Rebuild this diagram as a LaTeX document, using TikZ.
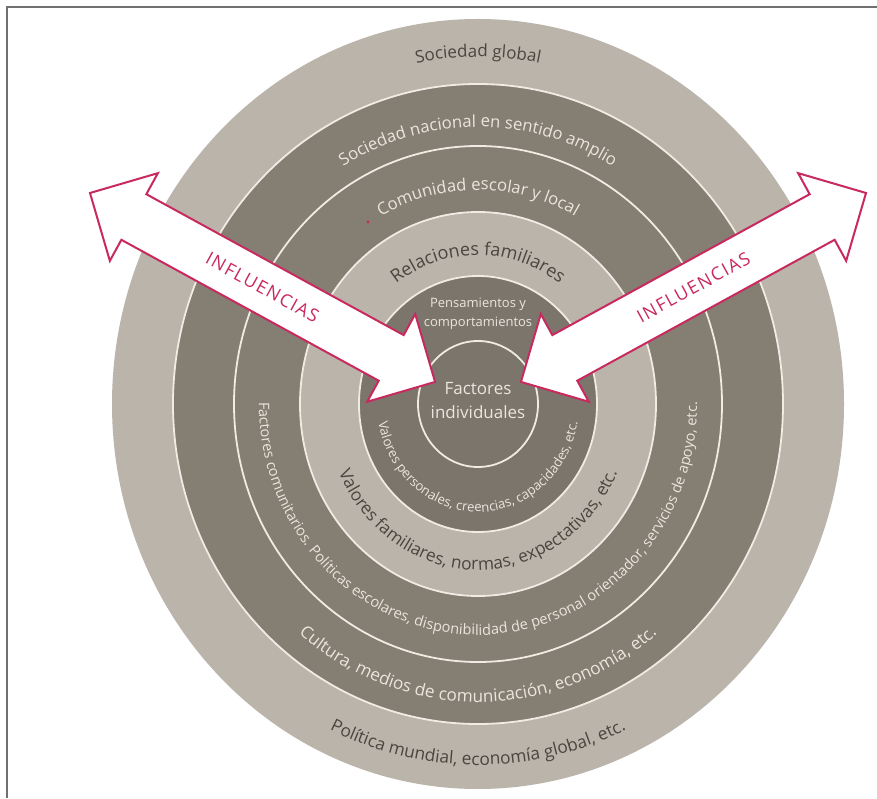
\documentclass[tikz,border=0pt]{standalone}
\usepackage{fontspec}
\setmainfont{Open Sans}
\usetikzlibrary{decorations.text}
\definecolor{lightband}{HTML}{BAB4AA}
\definecolor{darkband}{HTML}{847E73}
\definecolor{darkinner}{HTML}{7B756B}
\definecolor{ringwhite}{HTML}{F0ECE4}
\definecolor{txtdark}{HTML}{4B4540}
\definecolor{txtlight}{HTML}{EAE6DE}
\definecolor{crimson}{HTML}{C92A5E}
\definecolor{framegray}{HTML}{707070}
\tikzset{
  ringline/.style={draw=ringwhite, line width=1.8pt},
  arrowshape/.style={draw=crimson, fill=white, line width=2pt, line join=miter},
  influ/.style={text=crimson, font=\fontsize{18}{18}\selectfont\addfontfeatures{LetterSpace=8}, inner sep=0pt},
}
\begin{document}
\begin{tikzpicture}[x=1pt,y=1pt]
\useasboundingbox (0,0) rectangle (877,798);
\fill[white] (0,0) rectangle (877,798);
% frame
\draw[framegray, line width=2pt] (877,791) -- (7,791) -- (7,0);
\coordinate (C) at (478,394);
% rings
\fill[lightband] (C) ellipse[x radius=366, y radius=385];
\fill[darkband] (C) ellipse[x radius=305, y radius=320];
\draw[ringline] (C) ellipse[x radius=305, y radius=320];
\draw[ringline] (C) ellipse[x radius=244, y radius=258];
\fill[lightband] (C) ellipse[x radius=178, y radius=192];
\draw[ringline] (C) ellipse[x radius=178, y radius=192];
\fill[darkinner] (C) ellipse[x radius=119, y radius=128];
\draw[ringline] (C) ellipse[x radius=119, y radius=128];
\draw[ringline] (C) ellipse[x radius=60, y radius=63];
% red dot
\fill[crimson] (368,576) circle[radius=1.6];
% curved texts
\begin{scope}[shift={(C)}]
\path[decorate, decoration={text along path, text align=center,
  text={|\fontsize{17}{17}\selectfont\color{txtdark}|Sociedad global}}]
  (120:330 and 347) arc[start angle=120, end angle=60, x radius=330, y radius=347];
\path[decorate, decoration={text along path, text align=center,
  text={|\fontsize{16.7}{17}\selectfont\color{txtlight}|Sociedad nacional en sentido amplio}}]
  (140:262 and 277) arc[start angle=140, end angle=40, x radius=262, y radius=277];
\path[decorate, decoration={text along path, text align=center,
  text={|\fontsize{16.7}{17}\selectfont\color{txtlight}|Comunidad escolar y local}}]
  (150:203 and 214) arc[start angle=150, end angle=30, x radius=203, y radius=214];
\path[decorate, decoration={text along path, text align=center,
  text={|\fontsize{18}{18}\selectfont\color{txtdark}|Relaciones familiares}}]
  (160:138 and 149) arc[start angle=160, end angle=20, x radius=138, y radius=149];
\path[decorate, decoration={text along path, text align=center,
  text={|\fontsize{17.3}{17}\selectfont\color{txtdark}|Política mundial, economía global, etc.}}]
  (210:343 and 361) arc[start angle=210, end angle=330, x radius=343, y radius=361];
\path[decorate, decoration={text along path, text align=center,
  text={|\fontsize{17.2}{17}\selectfont\color{txtlight}|Cultura, medios de comunicación, economía, etc.}}]
  (195:282 and 298) arc[start angle=195, end angle=345, x radius=282, y radius=298];
\path[decorate, decoration={text along path, text align=center,
  text={|\fontsize{14.6}{15}\selectfont\color{txtlight}|Factores comunitarios. Políticas escolares, disponibilidad de personal orientador, servicios de apoyo, etc.}}]
  (155:219 and 231) arc[start angle=155, end angle=385, x radius=219, y radius=231];
\path[decorate, decoration={text along path, text align=center,
  text={|\fontsize{17.3}{17}\selectfont\color{txtdark}|Valores familiares, normas, expectativas, etc.}}]
  (185:153 and 166) arc[start angle=185, end angle=355, x radius=153, y radius=166];
\path[decorate, decoration={text along path, text align=center,
  text={|\fontsize{13.2}{13}\selectfont\color{txtlight}|Valores personales, creencias, capacidades, etc.}}]
  (172:101 and 108) arc[start angle=172, end angle=368, x radius=101, y radius=108];
\end{scope}
\node[text=txtlight, align=center, font=\fontsize{13}{19}\selectfont] (pens) at (478,484) {Pensamientos y\\comportamientos};
\node[text=txtlight, align=center, font=\fontsize{17}{24}\selectfont] (fact) at (478,397) {Factores\\individuales};
% arrows
\coordinate (LA) at (90,605);
\coordinate (RA) at (866,605);
\begin{scope}[shift={(LA)}, rotate=-28.7]
\draw[arrowshape] (0,0) -- (50,50) -- (50,26) -- (343.4,26) -- (343.4,50) -- (393.4,0) -- (343.4,-50) -- (343.4,-26) -- (50,-26) -- (50,-50) -- cycle;
\end{scope}
\begin{scope}[shift={(RA)}, rotate=208.7]
\draw[arrowshape] (0,0) -- (50,50) -- (50,26) -- (343.4,26) -- (343.4,50) -- (393.4,0) -- (343.4,-50) -- (343.4,-26) -- (50,-26) -- (50,-50) -- cycle;
\end{scope}
\node[influ, rotate=-28.7] (inL) at (262.5,510.6) {INFLUENCIAS};
\node[influ, rotate=28.7] (inR) at (693.5,510.6) {INFLUENCIAS};
\end{tikzpicture}
\end{document}
